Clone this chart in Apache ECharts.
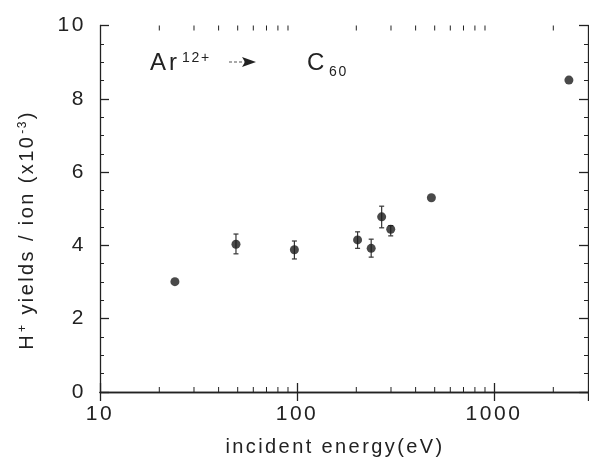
<!DOCTYPE html>
<html>
<head>
<meta charset="utf-8">
<script src="https://cdn.jsdelivr.net/npm/echarts@6/dist/echarts.min.js"></script>
<style>html,body{margin:0;padding:0;background:#fff;}#c{width:589px;height:475px;}</style>
</head>
<body>
<div id="c"></div>
<script>
// Incident energy (eV)
var energy = [24, 49, 97, 203, 238, 269, 299, 481, 2400];
// H+ yields per ion (x10^-3)
var yields = [3.01, 4.03, 3.88, 4.15, 3.92, 4.78, 4.44, 5.30, 8.51];
// error bar bounds (null = no visible bar)
var errLow  = [null, 3.77, 3.63, 3.92, 3.68, 4.48, 4.26, null, null];
var errHigh = [null, 4.31, 4.12, 4.37, 4.17, 5.07, 4.54, null, null];
// axis ticks
var xMajorTicks = [10, 100, 1000];
var xMinorTicks = [20, 30, 40, 50, 60, 70, 80, 90, 200, 300, 400, 500, 600, 700, 800, 900, 2000];
var yTicks = [0, 2, 4, 6, 8, 10];

// wide letter spacing like the typeset original (applied to drawing and measuring alike)
(function () {
  var P = CanvasRenderingContext2D.prototype;
  function spacing(ctx) {
    if (!('letterSpacing' in ctx)) return;
    var m = /([\d.]+)px/.exec(ctx.font || '');
    var size = m ? parseFloat(m[1]) : 12;
    ctx.letterSpacing = (size * 0.12).toFixed(2) + 'px';
  }
  var f = P.fillText, s = P.strokeText, mt = P.measureText;
  P.fillText = function () { spacing(this); return f.apply(this, arguments); };
  P.strokeText = function () { spacing(this); return s.apply(this, arguments); };
  P.measureText = function () { spacing(this); return mt.apply(this, arguments); };
})();

var FONT = 'Liberation Sans';
var chart = echarts.init(document.getElementById('c'), null, {renderer: 'canvas'});

var points = energy.map(function (e, i) { return [e, yields[i]]; });
var errData = [];
energy.forEach(function (e, i) {
  if (errLow[i] != null) errData.push([e, errLow[i], errHigh[i]]);
});
var minorData = xMinorTicks.map(function (v) { return [v]; });

var axisLine = {show: true, lineStyle: {color: '#222', width: 1.3}};

chart.setOption({
  animation: false,
  backgroundColor: '#fff',
  grid: {left: 100, right: 1, top: 25.5, bottom: 83, containLabel: false},
  xAxis: [{
    type: 'log', logBase: 10, min: 10, max: 3000, position: 'bottom',
    axisLine: axisLine,
    axisTick: {show: true, inside: true, length: 9, lineStyle: {color: '#222', width: 1.3}},
    axisLabel: {show: true, showMaxLabel: false, fontFamily: FONT, fontSize: 21, color: '#222', margin: 10,
      formatter: function (v) { return xMajorTicks.indexOf(Math.round(v)) >= 0 ? String(Math.round(v)) : ''; }},
    splitLine: {show: false},
    minorTick: {show: false}
  }, {
    type: 'log', logBase: 10, min: 10, max: 3000, position: 'top',
    axisLine: axisLine,
    axisTick: {show: true, inside: true, length: 9, lineStyle: {color: '#222', width: 1.3}},
    axisLabel: {show: false},
    splitLine: {show: false}
  }],
  yAxis: [{
    type: 'value', min: 0, max: 10, interval: 2, position: 'left',
    axisLine: axisLine,
    axisTick: {show: true, inside: true, length: 9, lineStyle: {color: '#222', width: 1.3}},
    minorTick: {show: true, splitNumber: 4, length: 4, lineStyle: {color: '#222', width: 1}},
    axisLabel: {fontFamily: FONT, fontSize: 21, color: '#222', margin: 14,
      formatter: function (v) { return yTicks.indexOf(v) >= 0 ? String(v) : ''; }},
    splitLine: {show: false}
  }, {
    type: 'value', min: 0, max: 10, interval: 2, position: 'right',
    axisLine: axisLine,
    axisTick: {show: true, inside: true, length: 9, lineStyle: {color: '#222', width: 1.3}},
    minorTick: {show: true, splitNumber: 4, length: 4, lineStyle: {color: '#222', width: 1}},
    axisLabel: {show: false},
    splitLine: {show: false}
  }],
  series: [{
    type: 'custom',
    name: 'minor x ticks',
    xAxisIndex: 0, yAxisIndex: 0,
    silent: true,
    data: minorData,
    encode: {x: 0},
    renderItem: function (params, api) {
      var v = api.value(0);
      var b = api.coord([v, 0]);
      var t = api.coord([v, 10]);
      var st = {stroke: '#222', lineWidth: 1};
      return {type: 'group', children: [
        {type: 'line', shape: {x1: b[0], y1: b[1], x2: b[0], y2: b[1] - 5}, style: st},
        {type: 'line', shape: {x1: t[0], y1: t[1], x2: t[0], y2: t[1] + 5}, style: st}
      ]};
    }
  }, {
    type: 'custom',
    name: 'error bars',
    xAxisIndex: 0, yAxisIndex: 0,
    silent: true,
    data: errData,
    encode: {x: 0, y: [1, 2]},
    renderItem: function (params, api) {
      var x = api.value(0);
      var lo = api.coord([x, api.value(1)]);
      var hi = api.coord([x, api.value(2)]);
      var st = {stroke: '#333', lineWidth: 1.2};
      var w = 2.5;
      return {type: 'group', children: [
        {type: 'line', shape: {x1: lo[0], y1: lo[1], x2: hi[0], y2: hi[1]}, style: st},
        {type: 'line', shape: {x1: lo[0] - w, y1: lo[1], x2: lo[0] + w, y2: lo[1]}, style: st},
        {type: 'line', shape: {x1: hi[0] - w, y1: hi[1], x2: hi[0] + w, y2: hi[1]}, style: st}
      ]};
    },
    z: 2
  }, {
    type: 'scatter',
    name: 'H+ yield',
    xAxisIndex: 0, yAxisIndex: 0,
    data: points,
    symbol: 'circle',
    symbolSize: 9,
    itemStyle: {color: '#1c1c1c'},
    z: 3
  }],
  graphic: [
    {type: 'text', left: 150, top: 50, style: {text: 'Ar', font: '24px "' + FONT + '"', fill: '#222'}},
    {type: 'text', left: 182, top: 50, style: {text: '12+', font: '14px "' + FONT + '"', fill: '#222'}},
    {type: 'line', shape: {x1: 229, y1: 62, x2: 245, y2: 62}, style: {stroke: '#555', lineWidth: 1.2, lineDash: [3, 2]}},
    {type: 'polygon', shape: {points: [[242, 57], [256, 62], [242, 67], [245, 62]]}, style: {fill: '#222'}},
    {type: 'text', left: 307, top: 50, style: {text: 'C', font: '24px "' + FONT + '"', fill: '#222'}},
    {type: 'text', left: 329, top: 64, style: {text: '60', font: '14px "' + FONT + '"', fill: '#222'}},
    {type: 'text', x: 27, y: 230, rotation: Math.PI / 2,
      style: {
        text: '{n|H}{s|+}{n| yields / ion (x10}{s|-3}{n|)}',
        align: 'center', verticalAlign: 'middle',
        rich: {
          n: {fontFamily: FONT, fontSize: 20, fill: '#222', color: '#222'},
          s: {fontFamily: FONT, fontSize: 12, fill: '#222', color: '#222', verticalAlign: 'top', padding: [0, 1, 8, 1]}
        }
      }},
    {type: 'text', x: 335, y: 447,
      style: {text: 'incident energy(eV)', font: '20px "' + FONT + '"', fill: '#222', align: 'center', verticalAlign: 'middle'}}
  ]
});
</script>
</body>
</html>
